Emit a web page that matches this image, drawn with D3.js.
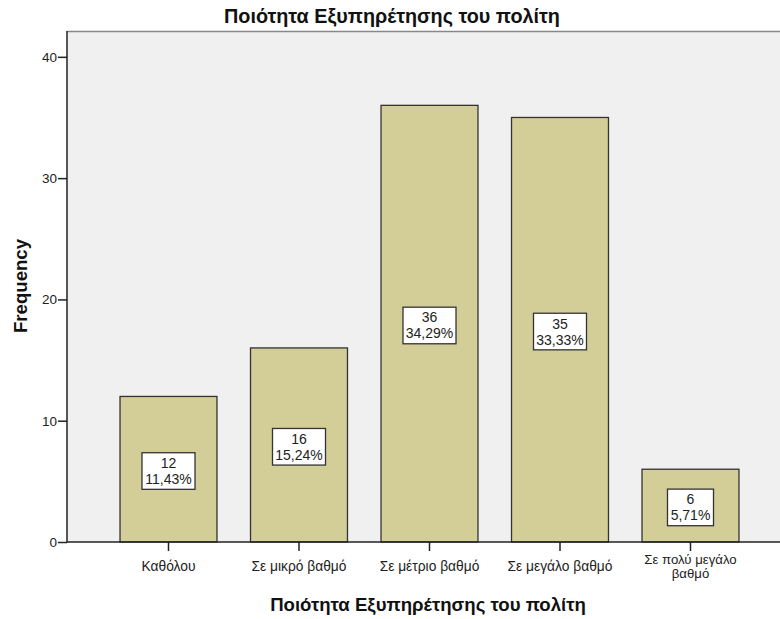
<!DOCTYPE html>
<html>
<head>
<meta charset="utf-8">
<script src="https://cdn.jsdelivr.net/npm/d3@7"></script>
<style>
  body { margin: 0; background: #fff; }
  svg { display: block; font-family: Arial, "Liberation Sans", sans-serif; }
</style>
</head>
<body>
<svg id="chart" width="780" height="619"></svg>
<script>
// Response categories and their counts
const categories = ["Καθόλου", "Σε μικρό βαθμό", "Σε μέτριο βαθμό", "Σε μεγάλο βαθμό", "Σε πολύ μεγάλο βαθμό"];
const counts = [12, 16, 36, 35, 6];
const percents = ["11,43%", "15,24%", "34,29%", "33,33%", "5,71%"];
const yTicks = [0, 10, 20, 30, 40];

const title = "Ποιότητα Εξυπηρέτησης του πολίτη";
const xTitle = "Ποιότητα Εξυπηρέτησης του πολίτη";
const yTitle = "Frequency";

const FONT = "Arial, 'Liberation Sans', sans-serif";
const svg = d3.select("#chart");
const plot = { left: 67, right: 780, top: 31, bottom: 542 };

const y = d3.scaleLinear().domain([0, 42.13]).range([plot.bottom, plot.top]);
const x = d3.scaleBand().domain(categories).range([103.25, 755.75]).paddingInner(0.257).paddingOuter(0.1285);

// plot background
svg.append("rect")
  .attr("x", plot.left).attr("y", plot.top)
  .attr("width", plot.right - plot.left).attr("height", plot.bottom - plot.top)
  .attr("fill", "#f0f0f0");
svg.append("line")
  .attr("x1", plot.left).attr("x2", plot.right)
  .attr("y1", plot.top + 0.5).attr("y2", plot.top + 0.5)
  .attr("stroke", "#888").attr("stroke-width", 1.5);

// bars
svg.append("g").selectAll("rect").data(counts).join("rect")
  .attr("x", (d, i) => x(categories[i]))
  .attr("y", d => y(d))
  .attr("width", x.bandwidth())
  .attr("height", d => plot.bottom - y(d))
  .attr("fill", "#d3ce97")
  .attr("stroke", "#333")
  .attr("stroke-width", 1.3);

// value boxes: count and percentage
const labels = svg.append("g").selectAll("g").data(counts).join("g")
  .attr("transform", (d, i) => `translate(${x(categories[i]) + x.bandwidth() / 2},${(y(d) + y(0)) / 2 + 1.8})`);
labels.append("rect")
  .attr("x", d => d >= 10 ? -26.5 : -23).attr("y", -18.3)
  .attr("width", d => d >= 10 ? 53 : 46).attr("height", 36.6)
  .attr("fill", "#fff").attr("stroke", "#333").attr("stroke-width", 1.3);
labels.append("text")
  .attr("text-anchor", "middle").attr("y", -3)
  .attr("font-size", 14).attr("fill", "#222")
  .text(d => d);
labels.append("text")
  .attr("text-anchor", "middle").attr("y", 13)
  .attr("font-size", 14).attr("fill", "#222")
  .text((d, i) => percents[i]);

// y axis
const yAxis = svg.append("g")
  .attr("transform", `translate(${plot.left},0)`)
  .call(d3.axisLeft(y).tickValues(yTicks).tickSize(9).tickPadding(1));
yAxis.select(".domain").attr("d", `M0,${plot.top}V${plot.bottom}`).attr("stroke", "#222").attr("stroke-width", 1.5);
yAxis.selectAll(".tick line").attr("stroke", "#222").attr("stroke-width", 1.5);
yAxis.selectAll(".tick text").attr("font-size", 13.5).attr("fill", "#222").attr("font-family", FONT);

// x axis with category labels (long one wrapped over two lines)
const xAxis = svg.append("g")
  .attr("transform", `translate(0,${plot.bottom})`)
  .call(d3.axisBottom(x).tickSize(9).tickPadding(5));
xAxis.select(".domain").attr("d", `M${plot.left},0H${plot.right}`).attr("stroke", "#222").attr("stroke-width", 1.5);
xAxis.selectAll(".tick line").attr("stroke", "#222").attr("stroke-width", 1.5);
xAxis.selectAll(".tick text").remove();
xAxis.selectAll(".tick").each(function (d) {
  const lines = d === "Σε πολύ μεγάλο βαθμό" ? ["Σε πολύ μεγάλο", "βαθμό"] : [d];
  const g = d3.select(this);
  lines.forEach((ln, k) => g.append("text")
    .attr("text-anchor", "middle").attr("fill", "#222")
    .attr("font-size", lines.length > 1 ? 13.2 : 13.8).attr("font-family", FONT)
    .attr("y", lines.length > 1 ? 22 + k * 13.5 : 29)
    .text(ln));
});

// titles
svg.append("text")
  .attr("x", 392).attr("y", 23).attr("text-anchor", "middle")
  .attr("font-size", 19.8).attr("font-weight", "bold").attr("fill", "#111").attr("font-family", FONT)
  .text(title);
svg.append("text")
  .attr("x", 428).attr("y", 611).attr("text-anchor", "middle")
  .attr("font-size", 18.6).attr("font-weight", "bold").attr("fill", "#111").attr("font-family", FONT)
  .text(xTitle);
svg.append("text")
  .attr("transform", `translate(27,286) rotate(-90)`).attr("text-anchor", "middle")
  .attr("font-size", 18.6).attr("font-weight", "bold").attr("fill", "#111").attr("font-family", FONT)
  .text(yTitle);
</script>
</body>
</html>
